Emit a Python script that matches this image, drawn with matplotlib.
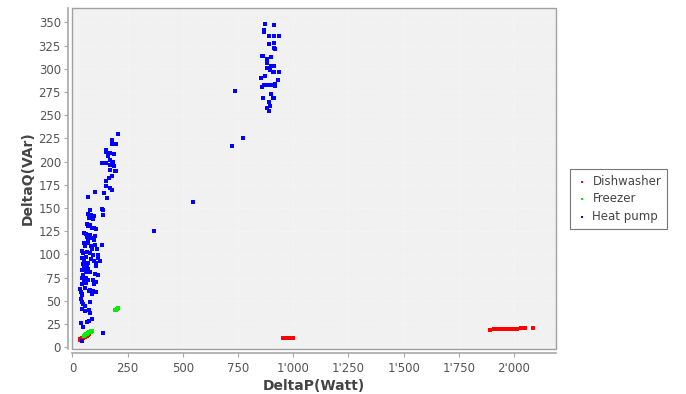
import matplotlib
matplotlib.use("Agg")
import matplotlib.pyplot as plt
from matplotlib.patches import Rectangle
from matplotlib.ticker import FuncFormatter, MultipleLocator

# ---- data (DeltaP [W], DeltaQ [VAr]) ----
hp_p = [
    81.5, 72.4, 84.5, 90.6, 75.5, 95.6, 93.6, 78.5, 87.5, 96.6, 105.7, 72.4,
    54.3, 60.4, 66.4, 81.5, 90.6, 72.4, 99.6, 51.3, 57.3, 72.4, 84.5, 102.6,
    111.7, 132.8, 42.2, 48.3, 66.4, 81.5, 93.6, 117.7, 114.7, 84.5, 45.3, 54.3,
    69.4, 96.6, 108.7, 123.8, 108.7, 48.3, 54.3, 45.3, 60.4, 81.5, 102.6, 114.7,
    42.2, 54.3, 72.4, 93.6, 105.7, 99.6, 45.3, 63.4, 33.2, 39.2, 45.3, 81.5,
    93.6, 105.7, 90.6, 42.2, 39.2, 42.2, 48.3, 78.5, 57.3, 45.3, 57.3, 75.5,
    81.5, 39.2, 66.4, 75.5, 87.5, 48.3, 138.9, 42.2,
    60.0, 66.0, 50.0, 88.0, 70.0, 56.0, 62.0, 100.0, 76.0, 68.0,
    208.3, 178.1, 178.1, 199.3, 154.0, 154.0, 172.1, 187.2, 132.8, 154.0, 169.1,
    181.2, 169.1, 187.2, 199.3, 169.1, 151.0, 166.1, 172.1, 178.1, 154.0, 102.6,
    72.4, 145.0, 157.0, 132.8, 138.9, 138.9, 184.0, 192.0, 190.0, 163.0, 178.0,
    371.4, 546.6, 721.7, 771.0, 737.0,
    874, 913, 868, 868, 892, 913, 937, 892, 913, 913, 919, 859, 864, 898, 879,
    883, 879, 898, 913, 894, 909, 913, 937, 853, 873, 929, 867, 859, 883, 898,
    918, 918, 898, 864, 913, 907, 888, 894, 883, 892,
]
hp_q = [
    147.7, 143.8, 142.0, 139.1, 139.1, 141.3, 137.7, 131.2, 128.7, 128.0, 126.9, 130.5,
    123.4, 121.6, 119.1, 120.5, 117.7, 116.2, 115.5, 111.9, 109.1, 111.9, 109.1, 110.5,
    105.5, 110.5, 103.7, 101.2, 102.6, 101.2, 99.8, 99.1, 96.2, 95.5, 96.6, 93.0,
    91.2, 93.3, 91.2, 93.0, 87.6, 89.4, 85.8, 83.3, 80.5, 81.2, 78.3, 77.6,
    74.0, 71.5, 72.6, 71.9, 70.4, 67.9, 67.9, 69.0, 62.6, 59.7, 57.6, 61.9,
    60.8, 59.7, 57.2, 56.1, 51.8, 49.0, 46.1, 49.0, 44.7, 41.1, 39.3, 40.4,
    36.8, 26.1, 26.8, 28.2, 30.4, 21.4, 15.4, 6.1,
    97.0, 88.0, 78.0, 106.0, 84.0, 64.0, 75.0, 120.0, 60.0, 133.0,
    230.0, 223.5, 218.9, 218.9, 212.8, 210.3, 209.2, 208.5, 198.5, 198.5, 202.0,
    198.5, 196.4, 194.9, 189.6, 191.3, 179.5, 182.4, 171.3, 169.2, 173.5, 167.0,
    162.0, 166.3, 160.6, 148.4, 147.7, 142.7, 200.0, 189.5, 208.0, 205.6, 184.0,
    124.8, 155.9, 216.4, 225.0, 275.7,
    348.7, 347, 342, 340, 335, 335, 335, 327, 328, 322.5, 321.5, 313.6, 313.6, 312.6, 310,
    305.8, 301, 303, 303, 298.6, 297, 296.5, 296.5, 290, 292, 287.5, 283, 280.7, 282, 283,
    284, 281.4, 273, 268.6, 269, 268, 264, 259.7, 257.8, 254.6,
]

fr_p = [53, 58, 62, 66, 70, 74, 78, 82, 86, 89, 192, 196, 200, 204, 207]
fr_q = [12.4, 13.2, 14.0, 14.6, 15.2, 15.8, 16.3, 16.8, 17.2, 17.5, 39.7, 40.2, 40.8, 41.3, 41.8]

dw_p = [32, 36, 40, 44, 48, 52, 56, 60, 64, 68, 72, 74,
        955, 965, 977, 988, 997,
        1890, 1908, 1920, 1935, 1945, 1955, 1965, 1975, 1985, 1995, 2005, 2015, 2030, 2050, 2087]
dw_q = [8.2, 8.7, 9.2, 9.8, 10.3, 10.8, 11.4, 11.9, 12.5, 13.0, 13.6, 14.0,
        10, 10, 10, 10, 10,
        18.5, 19.5, 19.5, 19.6, 19.7, 19.7, 19.8, 19.8, 19.9, 19.9, 20.0, 20.0, 20.1, 20.9, 20.5]

series_names = ["Dishwasher", "Freezer", "Heat pump"]
series_colors = ["#ff0000", "#00ee00", "#0000ff"]

plt.rcParams['font.family'] = ['DejaVu Sans']

fig = plt.figure(figsize=(6.86, 3.94), dpi=100)
ax = fig.add_axes([72 / 686, 1 - 349 / 394, (556 - 72) / 686, (349 - 7.5) / 394])
ax.set_facecolor("#f1f1f1")

ax.scatter(dw_p, dw_q, s=6, marker='s', c=series_colors[0], linewidths=0, label=series_names[0], zorder=3)
ax.scatter(fr_p, fr_q, s=6, marker='s', c=series_colors[1], linewidths=0, label=series_names[1], zorder=3)
ax.scatter(hp_p, hp_q, s=7, marker='s', c=series_colors[2], linewidths=0, label=series_names[2], zorder=3)

ax.set_xlim(-2, 2190)
ax.set_ylim(-2, 366)
ax.xaxis.set_major_locator(MultipleLocator(250))
ax.yaxis.set_major_locator(MultipleLocator(25))
ax.xaxis.set_major_formatter(FuncFormatter(lambda v, p: f"{int(v):,}".replace(",", "'")))
ax.grid(True, color="#fafafa", linestyle=(0, (1, 2)), linewidth=0.6)
ax.set_axisbelow(True)

for side in ["top", "right"]:
    ax.spines[side].set_visible(False)
for side in ["left", "bottom"]:
    ax.spines[side].set_position(("outward", 3))
    ax.spines[side].set_color("#a8a8a8")
    ax.spines[side].set_linewidth(1.2)
ax.add_patch(Rectangle((0, 0), 1, 1, transform=ax.transAxes, fill=False,
                       edgecolor="#a0a0a0", linewidth=1.0, zorder=5, clip_on=False))

ax.tick_params(axis="both", direction="out", length=3, width=0.8, color="#a8a8a8",
               labelsize=8.5, labelcolor="#555555", pad=2)
ax.tick_params(axis="x", pad=3)
ax.set_xlabel("DeltaP(Watt)", fontsize=10, fontweight="bold", color="#444444", labelpad=3)
ax.set_ylabel("DeltaQ(VAr)", fontsize=10, fontweight="bold", color="#444444", labelpad=3)

leg = ax.legend(loc="center left", bbox_to_anchor=(570 / 686, 1 - 199 / 394),
                bbox_transform=fig.transFigure, frameon=True, fancybox=False,
                fontsize=8.5, handletextpad=0.4, borderpad=0.5,
                labelspacing=0.4, handlelength=1.0, borderaxespad=0)
for h in leg.legend_handles:
    h.set_sizes([4])
leg.get_frame().set_edgecolor("#555555")
leg.get_frame().set_linewidth(0.8)
for t in leg.get_texts():
    t.set_color("#444444")

fig.savefig("out.png", dpi=100)
